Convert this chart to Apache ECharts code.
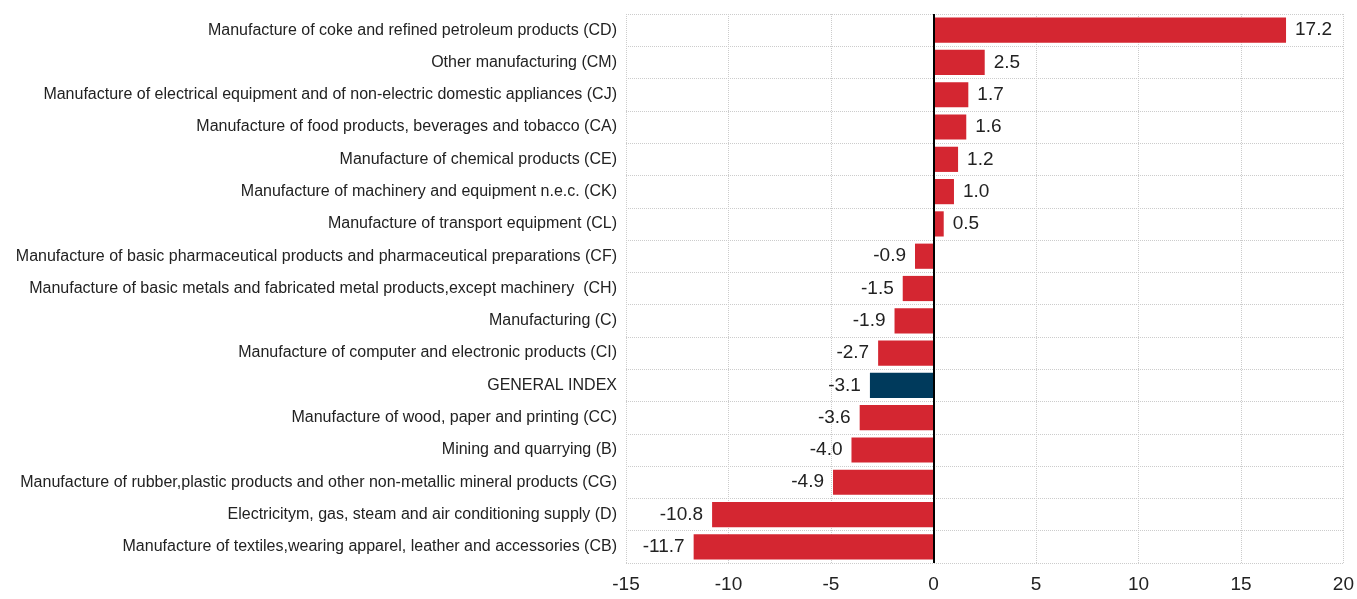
<!DOCTYPE html>
<html>
<head>
<meta charset="utf-8">
<script src="https://cdn.jsdelivr.net/npm/echarts@6/dist/echarts.min.js"></script>
<style>html,body{margin:0;padding:0;background:#fff;}#c{width:1357px;height:599px;}</style>
</head>
<body>
<div id="c"></div>
<script>
var categories = [
  "Manufacture of coke and refined petroleum products (CD)",
  "Other manufacturing (CM)",
  "Manufacture of electrical equipment and of non-electric domestic appliances (CJ)",
  "Manufacture of food products, beverages and tobacco (CA)",
  "Manufacture of chemical products (CE)",
  "Manufacture of machinery and equipment n.e.c. (CK)",
  "Manufacture of transport equipment (CL)",
  "Manufacture of basic pharmaceutical products and pharmaceutical preparations (CF)",
  "Manufacture of basic metals and fabricated metal products,except machinery  (CH)",
  "Manufacturing (C)",
  "Manufacture of computer and electronic products (CI)",
  "GENERAL INDEX",
  "Manufacture of wood, paper and printing (CC)",
  "Mining and quarrying (B)",
  "Manufacture of rubber,plastic products and other non-metallic mineral products (CG)",
  "Electricitym, gas, steam and air conditioning supply (D)",
  "Manufacture of textiles,wearing apparel, leather and accessories (CB)"
];
var values = [17.2, 2.5, 1.7, 1.6, 1.2, 1.0, 0.5, -0.9, -1.5, -1.9, -2.7, -3.1, -3.6, -4.0, -4.9, -10.8, -11.7];
var highlightCategory = "GENERAL INDEX";
var xMin = -15, xMax = 20, xInterval = 5;

var RED = '#d42631', NAVY = '#003a5c';
var FONT = '"Liberation Sans Narrow", "Arial Narrow", "Liberation Sans", sans-serif';

var data = values.map(function (v, i) {
  return {
    value: v,
    itemStyle: { color: categories[i] === highlightCategory ? NAVY : RED },
    label: { position: v >= 0 ? 'right' : 'left' }
  };
});

var chart = echarts.init(document.getElementById('c'));
chart.setOption({
  animation: false,
  grid: { left: 626, right: 13, top: 14, bottom: 36, containLabel: false },
  xAxis: {
    type: 'value', min: xMin, max: xMax, interval: xInterval,
    axisLine: { show: false }, axisTick: { show: false },
    axisLabel: { color: '#222', fontSize: 19, fontFamily: FONT, margin: 12 },
    splitLine: { show: true, lineStyle: { color: '#cccccc', type: [1, 1], width: 1 } }
  },
  yAxis: {
    type: 'category', data: categories, inverse: true,
    axisLine: { show: false }, axisTick: { show: false },
    axisLabel: { color: '#222', fontSize: 16, fontFamily: FONT, margin: 9, interval: 0 },
    splitLine: { show: true, interval: 0, lineStyle: { color: '#cccccc', type: [1, 1], width: 1 } }
  },
  series: [{
    type: 'bar', data: data, barCategoryGap: '22%',
    label: {
      show: true, color: '#222', fontSize: 19, fontFamily: FONT, distance: 9,
      formatter: function (p) { return p.value.toFixed(1); }
    },
    markLine: {
      silent: true, symbol: 'none', label: { show: false },
      lineStyle: { color: '#000', type: 'solid', width: 2 },
      data: [{ xAxis: 0 }]
    }
  }]
});
</script>
</body>
</html>
